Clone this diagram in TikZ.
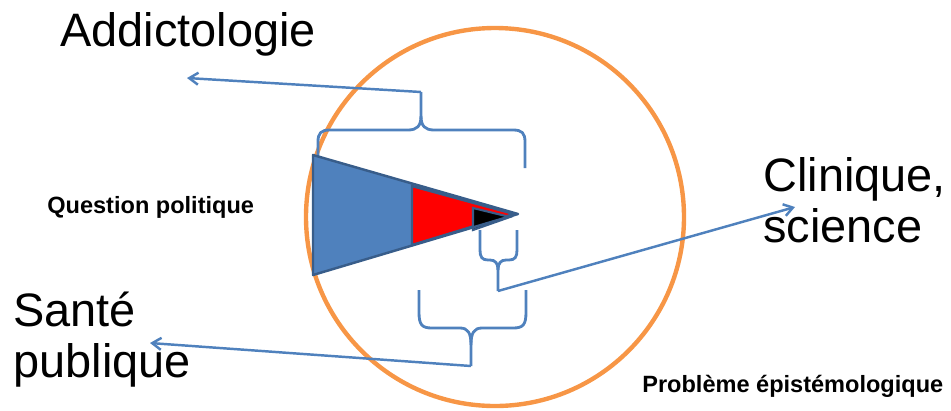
\documentclass[tikz,border=0pt]{standalone}
\usepackage{fontspec}
\setmainfont{Liberation Sans}
\usetikzlibrary{arrows.meta}
\definecolor{ring}{HTML}{F79646}
\definecolor{steel}{HTML}{4F81BD}
\definecolor{edge}{HTML}{385D8A}

\begin{document}
\begin{tikzpicture}[x=0.02cm,y=-0.02cm,>={Straight Barb[length=1.8mm,width=2.4mm]},
  big/.style={inner sep=0,font=\fontsize{26.7}{28.6}\selectfont},
  small/.style={inner sep=0,font=\fontsize{13.4}{16}\selectfont\bfseries},
  brace/.style={steel,line width=1.6pt},
  link/.style={->,steel,line width=1.4pt}]
\useasboundingbox (0,0) rectangle (951,410);
% labels
\node[big,anchor=base west] (addicto) at (60,46) {Addictologie};
\node[big,anchor=base west,align=left] (clinique) at (763,242) {Clinique,\\science};
\node[big,anchor=base west,align=left] (sante) at (13,377) {Santé\\publique};
\node[small,anchor=base west] (question) at (47,213) {Question politique};
\node[small,anchor=base west] (probleme) at (642,392) {Problème épistémologique};
% outer field
\draw[ring,line width=2.5pt] (495,217) circle[radius=189];
% brace tips
\coordinate (top) at (421,92);
\coordinate (mid) at (498,291);
\coordinate (low) at (471,366);
% upper brace
\draw[brace] (318,160) -- (318,142) .. controls (318,133) and (321,130) .. (330,130) -- (408,130)
  .. controls (417,130) and (421,126) .. (421,116) -- (top);
\draw[brace] (421,116) .. controls (421,126) and (425,130) .. (434,130) -- (513,130)
  .. controls (522,130) and (525,133) .. (525,142) -- (525,168);
% small brace
\draw[brace] (480,230) -- (480,250) .. controls (480,257) and (482,260) .. (488,260) -- (490,260)
  .. controls (495,260) and (498,263) .. (498,270) -- (mid);
\draw[brace] (517,230) -- (517,250) .. controls (517,257) and (515,260) .. (509,260) -- (506,260)
  .. controls (501,260) and (498,263) .. (498,270);
% lower brace
\draw[brace] (419,290) -- (419,312) .. controls (419,325) and (422,328) .. (432,328) -- (460,328)
  .. controls (468,328) and (471,333) .. (471,345) -- (low);
\draw[brace] (526,290) -- (526,312) .. controls (526,325) and (523,328) .. (513,328) -- (482,328)
  .. controls (474,328) and (471,333) .. (471,345);
% wedge
\fill[steel] (313,155) -- (518,214) -- (313,275) -- cycle;
\filldraw[fill=red,draw=edge,line width=1.4pt] (412,186) -- (514,214) -- (412,245) -- cycle;
\filldraw[fill=black,draw=edge,line width=1.2pt] (473,208) -- (510,217) -- (473,230) -- cycle;
\draw[edge,line width=1.4pt,line join=round] (313,155) -- (518,214) -- (313,275) -- cycle;
% pointers
\coordinate (toAddicto) at (187,78);
\coordinate (toClinique) at (795,207);
\coordinate (toSante) at (150,343);
\draw[link] (top) -- (toAddicto);
\draw[link] (mid) -- (toClinique);
\draw[link] (low) -- (toSante);
\end{tikzpicture}
\end{document}
